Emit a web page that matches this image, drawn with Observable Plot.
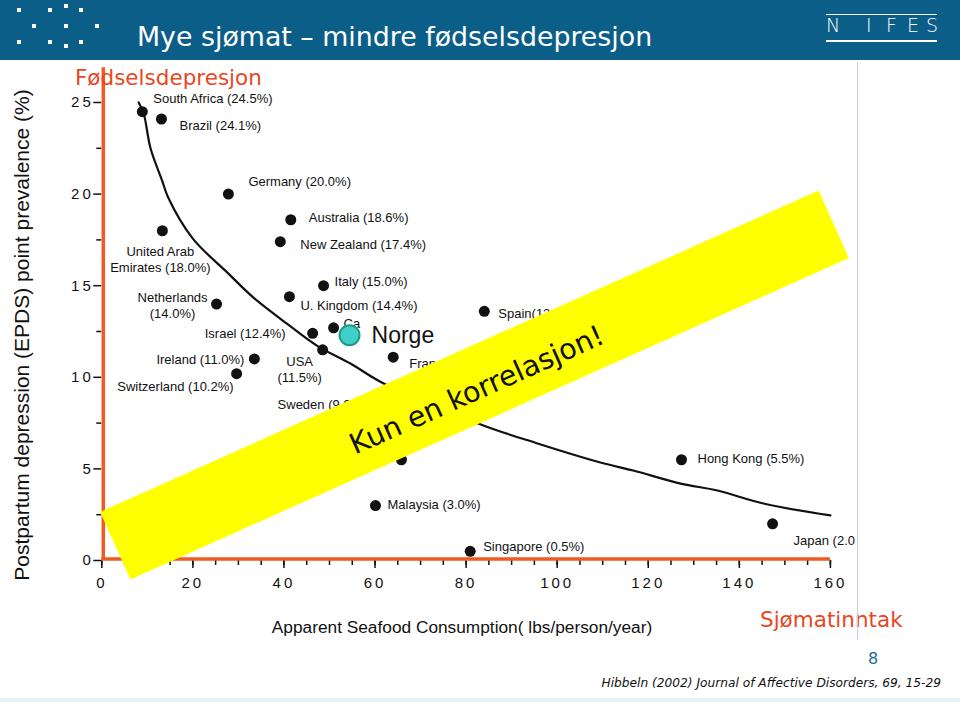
<!DOCTYPE html>
<html><head><meta charset="utf-8">
<script src="https://cdn.jsdelivr.net/npm/d3@7"></script>
<script src="https://cdn.jsdelivr.net/npm/@observablehq/plot@0.6"></script>
<style>
html,body{margin:0;padding:0;background:#fff;}
#page{position:relative;width:960px;height:702px;overflow:hidden;background:#fff;font-family:"DejaVu Sans",Verdana,sans-serif;}
#chart{position:absolute;left:0;top:0;}
.abs{position:absolute;white-space:nowrap;}
#header{position:absolute;left:0;top:0;width:960px;height:60px;background:#0b5e88;}
.sq{position:absolute;width:4px;height:4px;background:#fff;}
#title{left:137px;top:19px;font-size:26.8px;color:#fff;line-height:36px;}
.nl{position:absolute;top:12px;font-size:19px;font-weight:200;color:#fff;line-height:26px;}
.hl{position:absolute;left:826px;width:111px;height:1.5px;background:#fff;}
#banner{position:absolute;left:80.6px;top:348.2px;width:787px;height:74px;background:#ffff00;transform:rotate(-24.1deg);transform-origin:50% 50%;
  display:flex;align-items:center;justify-content:center;font-size:28.5px;color:#111;box-sizing:border-box;padding-top:10px;}
svg [aria-label="y-axis tick label"] text, svg [aria-label="x-axis tick label"] text{letter-spacing:3px;}
</style></head><body>
<div id="page">
  <div id="chart"></div>
  <div id="header">
    <div class="abs" id="title">Mye sjømat – mindre fødselsdepresjon</div>
    <div class="hl" style="top:13.5px"></div>
    <div class="hl" style="top:40px"></div>
  </div>
  <div id="banner">Kun en korrelasjon!</div>
  <div class="abs" style="left:75px;top:64px;font-size:21.5px;color:#e8481f;line-height:28px;">Fødselsdepresjon</div>
  <div class="abs" style="left:760px;top:606px;font-size:21.5px;color:#e8481f;line-height:28px;">Sjømatinntak</div>
  <div class="abs" id="ytitle" style="left:22px;top:334.5px;font-family:'Liberation Sans',Arial,sans-serif;font-size:21px;color:#111;transform:translate(-50%,-50%) rotate(-90deg);">Postpartum depression (EPDS) point prevalence (%)</div>
  <div class="abs" style="left:462px;top:627px;transform:translate(-50%,-50%);font-family:'Liberation Sans',Arial,sans-serif;font-size:17.3px;color:#111;">Apparent Seafood Consumption( lbs/person/year)</div>
  <div class="abs" style="left:873px;top:658px;transform:translate(-50%,-50%);font-size:16px;color:#1d6a94;">8</div>
  <div class="abs" style="right:19px;top:683px;transform:translateY(-50%);font-size:12.2px;font-style:italic;color:#111;">Hibbeln (2002) Journal of Affective Disorders, 69, 15-29</div>
  <div class="abs" style="left:857px;top:62px;width:1px;height:578px;background:#cfcfcf;"></div>
  <div class="abs" style="left:0;top:698px;width:960px;height:4px;background:#e3f3f8;"></div>
</div>
<script>
// ---- data ----
const countries = ["South Africa","Brazil","Germany","Australia","New Zealand","United Arab Emirates","Italy","U. Kingdom","Netherlands","Israel","Canada","USA","Ireland","Switzerland","France","Spain","Sweden","Korea","Malaysia","Singapore","Hong Kong","Japan"];
const consumption = [8.9, 13.1, 27.8, 41.5, 39.2, 13.3, 48.7, 41.2, 25.2, 46.3, 50.9, 48.5, 33.5, 29.6, 64.0, 84.0, 61.0, 65.8, 60.1, 80.9, 127.3, 147.3];
const prevalence = [24.5, 24.1, 20.0, 18.6, 17.4, 18.0, 15.0, 14.4, 14.0, 12.4, 12.7, 11.5, 11.0, 10.2, 11.1, 13.6, 9.0, 5.5, 3.0, 0.5, 5.5, 2.0];
const labels = ["South Africa (24.5%)","Brazil (24.1%)","Germany (20.0%)","Australia (18.6%)","New Zealand (17.4%)","United Arab\nEmirates (18.0%)","Italy (15.0%)","U. Kingdom (14.4%)","Netherlands\n(14.0%)","Israel (12.4%)","Ca","USA\n(11.5%)","Ireland (11.0%)","Switzerland (10.2%)","France (11.1%)","Spain(13.6%)","Sweden (9.0%)","","Malaysia (3.0%)","Singapore (0.5%)","Hong Kong (5.5%)","Japan (2.0"];
const norgeName = "Norge";
const norgeConsumption = 54.4;
const norgePrevalence = 12.3;
const curveX = [8.1, 9.2, 10.7, 13.3, 14.6, 19.9, 27.8, 33.3, 40.8, 47.4, 54.6, 61.9, 83.8, 95.7, 109.5, 116.7, 127.1, 135.2, 145.3, 160.0];
const curveY = [25.0, 24.4, 22.5, 20.7, 19.8, 17.6, 15.66, 14.35, 12.9, 11.7, 10.75, 9.66, 7.37, 6.39, 5.35, 4.91, 4.2, 3.82, 3.11, 2.46];
const xTicks = [0, 20, 40, 60, 80, 100, 120, 140, 160];
const yTicks = [0, 5, 10, 15, 20, 25];

// ---- layout (label offsets in px) ----
const labelLayout = {
  "South Africa":[11,-14,"start"], "Brazil":[18,6,"start"], "Germany":[20,-13,"start"],
  "Australia":[18,-3,"start"], "New Zealand":[20,2,"start"], "United Arab Emirates":[-2,28,"middle"],
  "Italy":[11,-5,"start"], "U. Kingdom":[11,8,"start"], "Netherlands":[-44,1,"middle"],
  "Israel":[-27,0,"end"], "Canada":[10,-5,"start"], "USA":[-23,19,"middle"],
  "Ireland":[-10,0,"end"], "Switzerland":[-3,12,"end"], "France":[16,6,"start"],
  "Spain":[14,2,"start"], "Sweden":[-102,8,"start"], "Korea":[0,0,"start"],
  "Malaysia":[12,-2,"start"], "Singapore":[13,-5,"start"], "Hong Kong":[16,-2,"start"], "Japan":[21,16,"start"]
};
const logoDots = [[19,10],[50,10],[66,6],[81,10],[34,26],[66,26],[97,26],[19,42],[50,42],[66,46],[81,42]];
const nifes = [["N",826],["I",866],["F",886],["E",907],["S",926]];

const data = countries.map((c, i) => ({country: c, x: consumption[i], y: prevalence[i], label: labels[i]}));
const curve = curveX.map((x, i) => ({x, y: curveY[i]}));
const norge = [{name: norgeName, x: norgeConsumption, y: norgePrevalence}];

const orange = "#f15a22";
const labelMarks = data.filter(d => d.label).map(d => {
  const [dx, dy, anchor] = labelLayout[d.country];
  return Plot.text([d], {x: "x", y: "y", text: "label", dx, dy, textAnchor: anchor, fontSize: 13, lineHeight: 1.23, fill: "#111"});
});

const chart = Plot.plot({
  width: 960, height: 702,
  marginLeft: 101.3, marginRight: 130.1, marginTop: 102, marginBottom: 142,
  style: {fontFamily: "'Liberation Sans', Arial, sans-serif", fontSize: "15px", color: "#111", background: "transparent", overflow: "visible"},
  x: {domain: [0, 160]},
  y: {domain: [0, 25]},
  marks: [
    Plot.axisY(d3.range(2.5, 25, 5), {tickSize: 5, tickFormat: () => "", label: null, strokeWidth: 1.5}),
    Plot.axisY(yTicks, {tickSize: 8, tickPadding: 0, label: null, strokeWidth: 1.5, fontSize: 15, fill: "#111"}),
    Plot.axisX(d3.range(0, 161, 5), {tickSize: 5, tickFormat: () => "", label: null, strokeWidth: 1.5}),
    Plot.axisX(xTicks, {tickSize: 8, tickPadding: 9, label: null, strokeWidth: 1.5, fontSize: 15, fill: "#111"}),
    Plot.ruleY([0], {x1: 0, x2: 160, stroke: orange, strokeWidth: 3.5, dy: -1.5}),
    Plot.ruleX([0], {y1: 0, y2: 26.9, stroke: orange, strokeWidth: 3.5, dx: 1.5}),
    Plot.line(curve, {x: "x", y: "y", curve: "catmull-rom", stroke: "#111", strokeWidth: 2.2}),
    Plot.dot(data, {x: "x", y: "y", r: 5.5, fill: "#111"}),
    ...labelMarks,
    Plot.dot(norge, {x: "x", y: "y", r: 10, fill: "#3fd0c9", stroke: "#1f9a86", strokeWidth: 2}),
    Plot.text(norge, {x: "x", y: "y", text: "name", dx: 22, textAnchor: "start", fontSize: 23, fill: "#111"})
  ]
});
document.getElementById("chart").appendChild(chart);

const header = document.getElementById("header");
for (const [x, y] of logoDots) {
  const s = document.createElement("div");
  s.className = "sq"; s.style.left = (x - 2) + "px"; s.style.top = (y - 2) + "px";
  header.appendChild(s);
}
for (const [ch, x] of nifes) {
  const s = document.createElement("div");
  s.className = "nl"; s.textContent = ch; s.style.left = x + "px";
  header.appendChild(s);
}
</script>
</body></html>
